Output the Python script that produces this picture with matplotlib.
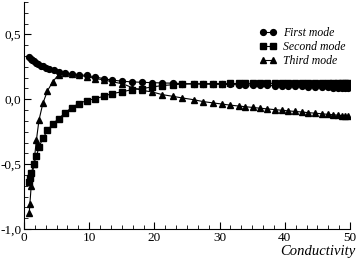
import matplotlib
matplotlib.use("Agg")
import matplotlib.pyplot as plt
from matplotlib.ticker import MultipleLocator, AutoMinorLocator, FuncFormatter

# ---- data ----
x_first = [0.8, 1.0, 1.25, 1.5, 1.85, 2.2, 2.55, 2.95, 3.4, 3.9, 4.6, 5.4, 6.3, 7.3, 8.4, 9.6,
           10.95, 12.2, 13.5, 15.1, 16.6, 18.1, 19.7, 21.2, 22.8, 24.3, 26.0, 27.5, 29.0, 30.4,
           31.6, 32.9, 33.9, 35.1, 36.2, 37.3, 38.5, 39.6, 40.5, 41.6, 42.6, 43.6, 44.6, 45.7,
           46.6, 47.4, 48.2, 48.8, 49.2, 49.7]
first_mode = [0.325, 0.313, 0.300, 0.292, 0.280, 0.270, 0.260, 0.254, 0.244, 0.236, 0.223, 0.210,
              0.202, 0.195, 0.190, 0.184, 0.172, 0.159, 0.148, 0.139, 0.134, 0.131, 0.128, 0.126,
              0.124, 0.121, 0.119, 0.117, 0.116, 0.115, 0.114, 0.112, 0.111, 0.110, 0.108, 0.107,
              0.105, 0.104, 0.102, 0.100, 0.099, 0.097, 0.095, 0.093, 0.091, 0.090, 0.088, 0.087,
              0.086, 0.085]

x_other = [0.8, 0.9, 1.1, 1.5, 1.9, 2.3, 2.9, 3.6, 4.4, 5.3, 6.3, 7.3, 8.4, 9.6,
           10.95, 12.2, 13.5, 15.1, 16.6, 18.1, 19.7, 21.2, 22.8, 24.3, 26.0, 27.5, 29.0, 30.4,
           31.6, 32.9, 33.9, 35.1, 36.2, 37.3, 38.5, 39.6, 40.5, 41.6, 42.6, 43.6, 44.6, 45.7,
           46.6, 47.4, 48.2, 48.8, 49.2, 49.7]
second_mode = [-0.636, -0.610, -0.570, -0.500, -0.440, -0.367, -0.300, -0.240, -0.190, -0.150,
               -0.105, -0.064, -0.033, -0.010, 0.005, 0.023, 0.044, 0.058, 0.075, 0.083, 0.095,
               0.106, 0.112, 0.117, 0.119, 0.120, 0.121, 0.121, 0.122, 0.122, 0.122, 0.123, 0.123,
               0.123, 0.123, 0.124, 0.124, 0.124, 0.124, 0.124, 0.125, 0.125, 0.125, 0.125, 0.125,
               0.125, 0.125, 0.125]
third_mode = [-0.875, -0.810, -0.670, -0.500, -0.315, -0.160, -0.030, 0.065, 0.135, 0.190,
              0.200, 0.195, 0.185, 0.175, 0.160, 0.150, 0.135, 0.120, 0.090, 0.069, 0.056, 0.036,
              0.023, 0.010, -0.003, -0.018, -0.028, -0.037, -0.045, -0.052, -0.057, -0.063,
              -0.069, -0.074, -0.080, -0.085, -0.089, -0.094, -0.098, -0.103, -0.107, -0.112,
              -0.116, -0.119, -0.123, -0.126, -0.128, -0.131]

labels = ["First mode", "Second mode", "Third mode"]
xlabel = "Conductivity"

plt.rcParams['font.family'] = ['Liberation Serif', 'DejaVu Serif']

fig = plt.figure(figsize=(3.6, 2.63), dpi=100)
ax = fig.add_axes([24/360, 1 - 229/263, (350 - 24)/360, (229 - 2)/263])

kw = dict(color='black', lw=0.8, markersize=4.2)
ax.plot(x_first, first_mode, marker='o', label=labels[0], **kw)
ax.plot(x_other, second_mode, marker='s', label=labels[1], **{**kw, 'markersize': 3.8})
ax.plot(x_other, third_mode, marker='^', label=labels[2], **kw)

ax.set_xlim(0, 50)
ax.set_ylim(-1.0, 0.75)
ax.xaxis.set_major_locator(MultipleLocator(10))
ax.xaxis.set_minor_locator(AutoMinorLocator(6))
ax.yaxis.set_major_locator(MultipleLocator(0.5))
ax.yaxis.set_minor_locator(AutoMinorLocator(6))
ax.xaxis.set_major_formatter(FuncFormatter(lambda v, p: f"{v:.0f}"))
ax.yaxis.set_major_formatter(FuncFormatter(lambda v, p: f"{v:.1f}".replace('.', ',')))
for s in ['top', 'right']:
    ax.spines[s].set_visible(False)
for s in ['left', 'bottom']:
    ax.spines[s].set_linewidth(0.8)
ax.tick_params(which='major', direction='in', length=5, width=0.8, labelsize=9.5, pad=2)
ax.tick_params(which='minor', direction='in', length=3, width=0.6)

fig.text(355/360, 1 - 251/263, xlabel, ha='right', va='center', style='italic', fontsize=10.5)

leg = ax.legend(loc='upper right', bbox_to_anchor=(350/360, 1 - 22/263), bbox_transform=fig.transFigure,
                frameon=False, numpoints=2, handlelength=1.5, handletextpad=0.5,
                labelspacing=0.2, borderaxespad=0,
                prop={'style': 'italic', 'size': 8.5, 'family': ['Liberation Serif']})

fig.savefig("out.png", dpi=100)
